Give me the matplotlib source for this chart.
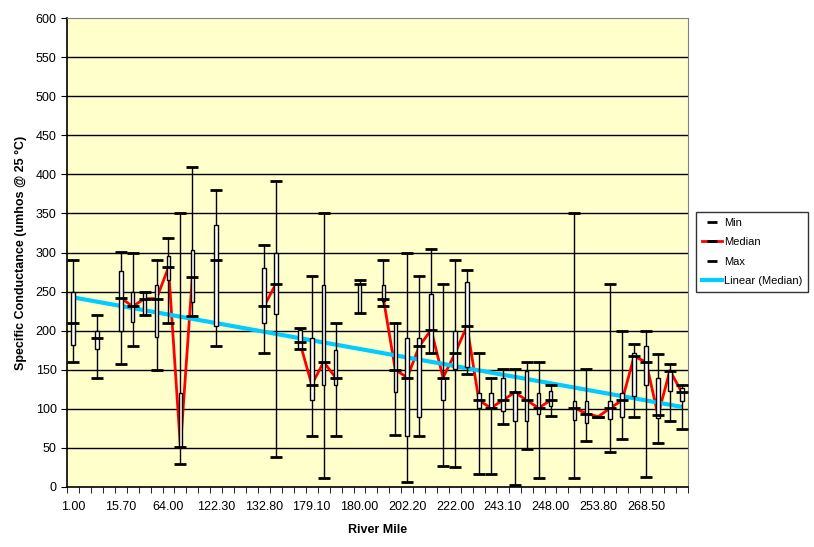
import numpy as np
import matplotlib
matplotlib.use("Agg")
import matplotlib.pyplot as plt
from matplotlib.lines import Line2D
from matplotlib.patches import Rectangle

plt.rcParams['font.family'] = ['Liberation Sans', 'DejaVu Sans']

# === DATOS (52 categorías, NaN = sin datos) ===
nan = np.nan
min_vals = [160, nan, 140, nan, 157, 181, 220, 150, 210, 30, 219, nan, 181, nan, nan, nan,
            171, 39, nan, 177, 65, 12, 65, nan, 223, nan, 231, 66, 6, 65, 171, 27,
            26, 144, 17, 16, 81, 3, 49, 12, 91, nan, 11, 59, 90, 45, 62, 89,
            13, 56, 85, 74]
q1_vals = [182, nan, 176, nan, 200, 211, 220, 192, 265, 51, 237, nan, 206, nan, nan, nan,
           210, 221, nan, 177, 111, 131, 131, nan, 223, nan, 238, 121, 65, 89, 171, 111,
           151, 154, 101, 101, 97, 84, 84, 94, 104, nan, 86, 82, 90, 87, 90, 117,
           131, 88, 123, 110]
median_vals = [210, nan, 191, nan, 242, 231, 241, 241, 281, 51, 269, nan, 291, nan, nan, nan,
               231, 260, nan, 185, 131, 160, 140, nan, 260, nan, 241, 150, 140, 180, 201, 140,
               171, 206, 111, 101, 111, 121, 111, 101, 111, nan, 101, 94, 90, 101, 111, 167,
               160, 92, 149, 121]
q3_vals = [249, nan, 199, nan, 276, 249, 250, 259, 295, 120, 303, nan, 335, nan, nan, nan,
           280, 299, nan, 201, 190, 259, 175, nan, 260, nan, 259, 210, 190, 190, 247, 140,
           199, 262, 120, 120, 139, 121, 149, 120, 123, nan, 110, 110, 90, 110, 120, 172,
           180, 140, 149, 127]
max_vals = [291, nan, 220, nan, 301, 300, 250, 291, 319, 351, 409, nan, 380, nan, nan, nan,
            310, 391, nan, 203, 270, 351, 210, nan, 265, nan, 291, 210, 300, 270, 304, 260,
            291, 277, 171, 140, 151, 151, 160, 160, 130, nan, 351, 151, 90, 260, 200, 183,
            200, 170, 157, 131]

tick_labels = ["1.00", "15.70", "64.00", "122.30", "132.80", "179.10", "180.00",
               "202.20", "222.00", "243.10", "248.00", "253.80", "268.50"]

mins = np.array(min_vals, dtype=float)
q1 = np.array(q1_vals, dtype=float)
med = np.array(median_vals, dtype=float)
q3 = np.array(q3_vals, dtype=float)
maxs = np.array(max_vals, dtype=float)
x = np.arange(len(med))
ok = ~np.isnan(med)

# === FIGURA ===
fig = plt.figure(figsize=(8.14, 5.47), dpi=100)
ax = fig.add_axes([0.0823, 0.1097, 0.7627, 0.8573])
ax.set_facecolor("#FFFFCC")

for v in range(50, 600, 50):
    ax.axhline(v, color="black", lw=1, zorder=1)

# linea de medianas (rota donde faltan datos)
ax.plot(x, med, color="red", lw=2, zorder=2)

# tendencia lineal de la mediana
coef = np.polyfit(x[ok], med[ok], 1)
ax.plot([x[0], x[-1]], np.polyval(coef, [x[0], x[-1]]), color="#00CCFF", lw=3,
        solid_capstyle="butt", zorder=3)

box_w = 0.3
for i in x[ok]:
    ax.plot([i, i], [mins[i], maxs[i]], color="black", lw=1, zorder=4)
    if q3[i] > q1[i]:
        ax.add_patch(Rectangle((i - box_w / 2, q1[i]), box_w, q3[i] - q1[i],
                               facecolor="white", edgecolor="black", lw=1, zorder=5))
for arr in (mins, med, maxs):
    ax.plot(x[ok], arr[ok], ls="none", marker="_", ms=8, mew=2, color="black", zorder=6)

ax.set_xlim(-0.5, len(x) - 0.5)
ax.set_ylim(0, 600)
ax.set_yticks(range(0, 601, 50))
ax.set_xticks(np.arange(0, len(x), 4))
ax.set_xticklabels(tick_labels)
ax.set_xticks(np.arange(-0.5, len(x), 1), minor=True)
ax.tick_params(axis="x", which="major", length=0, pad=10, labelsize=9)
ax.tick_params(axis="x", which="minor", length=4, direction="out")
ax.tick_params(axis="y", length=4, labelsize=9, direction="out")
for s in ("top", "right"):
    ax.spines[s].set_color("#808080")
ax.spines["left"].set_linewidth(1.2)
ax.spines["bottom"].set_linewidth(1.2)

ax.set_xlabel("River Mile", fontsize=9, fontweight="bold", labelpad=8)
ax.set_ylabel("Specific Conductance (umhos @ 25 °C)", fontsize=9, fontweight="bold", labelpad=6)

handles = [
    Line2D([], [], ls="none", marker="_", ms=7, mew=2, color="black"),
    Line2D([], [], color="red", lw=2, marker="_", ms=7, mew=2, mec="black"),
    Line2D([], [], ls="none", marker="_", ms=7, mew=2, color="black"),
    Line2D([], [], color="#00CCFF", lw=3),
]
leg = fig.legend(handles, ["Min", "Median", "Max", "Linear (Median)"],
                 loc="upper left", bbox_to_anchor=(0.855, 0.612), fontsize=8,
                 frameon=True, fancybox=False, edgecolor="black", handlelength=1.8,
                 handletextpad=0.2, borderpad=0.5, labelspacing=0.85, borderaxespad=0)
leg.get_frame().set_linewidth(1)

fig.savefig("out.png", dpi=100)
